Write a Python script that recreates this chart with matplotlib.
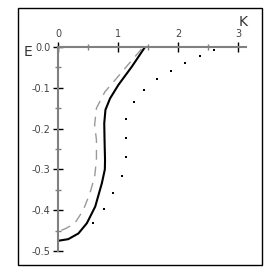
import matplotlib
matplotlib.use("Agg")
import matplotlib.pyplot as plt
from matplotlib.patches import Rectangle
from matplotlib.ticker import MultipleLocator

# solid curve (K, E)
solid_k = [1.44, 1.23, 1.005, 0.867, 0.79, 0.77, 0.775, 0.783, 0.78, 0.73, 0.62, 0.48, 0.34, 0.17, 0.0]
solid_e = [-0.002, -0.048, -0.093, -0.126, -0.154, -0.187, -0.228, -0.277, -0.30, -0.334, -0.391,
           -0.432, -0.457, -0.471, -0.475]

# dashed curve
dash_k = [1.39, 1.14, 0.95, 0.78, 0.64, 0.61, 0.64, 0.64, 0.61, 0.53, 0.42, 0.28, 0.14, 0.0]
dash_e = [-0.005, -0.048, -0.081, -0.11, -0.15, -0.19, -0.228, -0.277, -0.318, -0.359, -0.40,
          -0.432, -0.444, -0.453]

# dotted curve (sparse points)
dot_k = [2.59, 2.36, 2.12, 1.88, 1.64, 1.43, 1.26, 1.13, 1.13, 1.13, 1.07, 0.92, 0.77, 0.59]
dot_e = [-0.007, -0.022, -0.038, -0.058, -0.078, -0.105, -0.136, -0.176, -0.224, -0.270,
         -0.316, -0.359, -0.398, -0.431]

GRAY = "#808080"

fig = plt.figure(figsize=(2.72, 2.72), dpi=100, facecolor="white")
ax = fig.add_axes([58 / 272, 1 - 251 / 272, 188 / 272, 204 / 272])

ax.plot(dash_k, dash_e, color="#999999", lw=1.0, dashes=(7, 5))
ax.plot(solid_k, solid_e, color="black", lw=1.5)
ax.plot(dot_k, dot_e, ls="none", marker="s", ms=1.6, color="black", mew=0)

ax.set_xlim(0, 3.13)
ax.set_ylim(-0.5, 0)

for side in ["right", "bottom"]:
    ax.spines[side].set_visible(False)
for side in ["left", "top"]:
    ax.spines[side].set_color(GRAY)
    ax.spines[side].set_linewidth(1.5)

ax.xaxis.tick_top()
ax.xaxis.set_major_locator(MultipleLocator(1))
ax.xaxis.set_minor_locator(MultipleLocator(0.5))
ax.yaxis.set_major_locator(MultipleLocator(0.1))
ax.yaxis.set_minor_locator(MultipleLocator(0.05))
ax.tick_params(which="major", direction="inout", length=7, width=1, color="black",
               labelsize=7, labelcolor="#444444", pad=2)
ax.tick_params(which="minor", direction="inout", length=4, width=1, color=GRAY)
ax.set_yticks([0, -0.1, -0.2, -0.3, -0.4, -0.5])
ax.set_yticklabels(["0.0", "-0.1", "-0.2", "-0.3", "-0.4", "-0.5"])

fig.text(28 / 272, 1 - 52 / 272, "E", fontsize=10, ha="center", va="center", color="#333333")
fig.text(243 / 272, 1 - 22 / 272, "K", fontsize=10, ha="center", va="center", color="#333333")

fig.patches.append(Rectangle((18 / 272, 1 - 265 / 272), 244 / 272, 257 / 272,
                             transform=fig.transFigure, fill=False, ec="black", lw=1))

fig.savefig("out.png", dpi=100, facecolor="white")
